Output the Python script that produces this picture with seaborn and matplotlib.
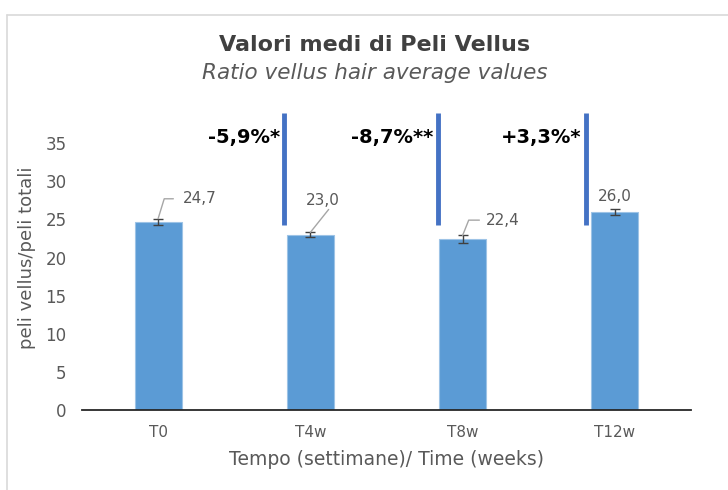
import matplotlib
matplotlib.use("Agg")
import matplotlib.pyplot as plt
import seaborn as sns
import pandas as pd
from matplotlib.lines import Line2D

categories = ["T0", "T4w", "T8w", "T12w"]
values = [24.7, 23.0, 22.4, 26.0]
errors = [0.4, 0.3, 0.5, 0.4]
value_labels = ["24,7", "23,0", "22,4", "26,0"]
changes = ["-5,9%*", "-8,7%**", "+3,3%*"]
yticks = [0, 5, 10, 15, 20, 25, 30, 35]

sns.set_theme(style="white")
plt.rcParams["font.family"] = ["DejaVu Sans"]

gray = "#595959"
bar_color = "#5B9BD5"
line_color = "#4472C4"

df = pd.DataFrame({"cat": categories, "val": values})

fig = plt.figure(figsize=(7.28, 4.9), dpi=100)
ax = fig.add_axes([82/728, 1-410/490, (691-82)/728, (410-105)/490])

sns.barplot(data=df, x="cat", y="val", color=bar_color, width=0.31, ax=ax,
            edgecolor="#9DC3E6", linewidth=0.8, saturation=1)
ax.errorbar(range(len(categories)), values, yerr=errors, fmt="none",
            ecolor="#404040", elinewidth=1, capsize=3.5, capthick=1)

ax.set_ylim(0, 40)
ax.set_xlim(-0.5, 3.5)
ax.set_yticks(yticks)
ax.tick_params(axis="y", colors=gray, labelsize=12, length=0, pad=11)
ax.tick_params(axis="x", colors=gray, labelsize=11, length=0, pad=11)
for lab in ax.get_xticklabels() + ax.get_yticklabels():
    lab.set_color(gray)
for s in ["top", "right", "left"]:
    ax.spines[s].set_visible(False)
ax.spines["bottom"].set_color("#262626")
ax.spines["bottom"].set_linewidth(1.3)
ax.set_xlabel("Tempo (settimane)/ Time (weeks)", color=gray, fontsize=13.5, labelpad=7)
ax.set_ylabel("peli vellus/peli totali", color=gray, fontsize=13, labelpad=7)

# data labels with leader lines
lab_kw = dict(color=gray, fontsize=11)
# T0
top0 = values[0] + errors[0]
ax.plot([0, 0.04, 0.1], [top0, top0 + 2.6, top0 + 2.6], color="#A6A6A6", lw=1)
ax.text(0.16, top0 + 2.6, value_labels[0], ha="left", va="center", **lab_kw)
# T4w
top1 = values[1] + errors[1]
ax.plot([1, 1.12], [top1, top1 + 3.0], color="#A6A6A6", lw=1)
ax.text(1.08, top1 + 3.2, value_labels[1], ha="center", va="bottom", **lab_kw)
# T8w
top2 = values[2] + errors[2]
ax.plot([2, 2.04, 2.11], [top2, top2 + 2.0, top2 + 2.0], color="#A6A6A6", lw=1)
ax.text(2.15, top2 + 2.0, value_labels[2], ha="left", va="center", **lab_kw)
# T12w
top3 = values[3] + errors[3]
ax.text(3, top3 + 0.6, value_labels[3], ha="center", va="bottom", **lab_kw)

# significance markers
line_x = [0.83, 1.84, 2.81]
for xl, txt in zip(line_x, changes):
    ax.plot([xl, xl], [24.3, 39.0], color=line_color, lw=3.5, solid_capstyle="butt")
    ax.text(xl - 0.03, 35.8, txt, ha="right", va="center", fontsize=14,
            fontweight="bold", color="black")

fig.text(0.515, 1-45/490, "Valori medi di Peli Vellus", ha="center", va="center",
         fontsize=16, fontweight="bold", color="#404040")
fig.text(0.515, 1-73/490, "Ratio vellus hair average values", ha="center", va="center",
         fontsize=15.5, fontstyle="italic", color=gray)

fig.add_artist(Line2D([7/728, 1], [1-15/490, 1-15/490], color="#D9D9D9", lw=1.2,
                      transform=fig.transFigure))
fig.add_artist(Line2D([7/728, 7/728], [0, 1-15/490], color="#D9D9D9", lw=1.2,
                      transform=fig.transFigure))

fig.savefig("out.png", dpi=100)
